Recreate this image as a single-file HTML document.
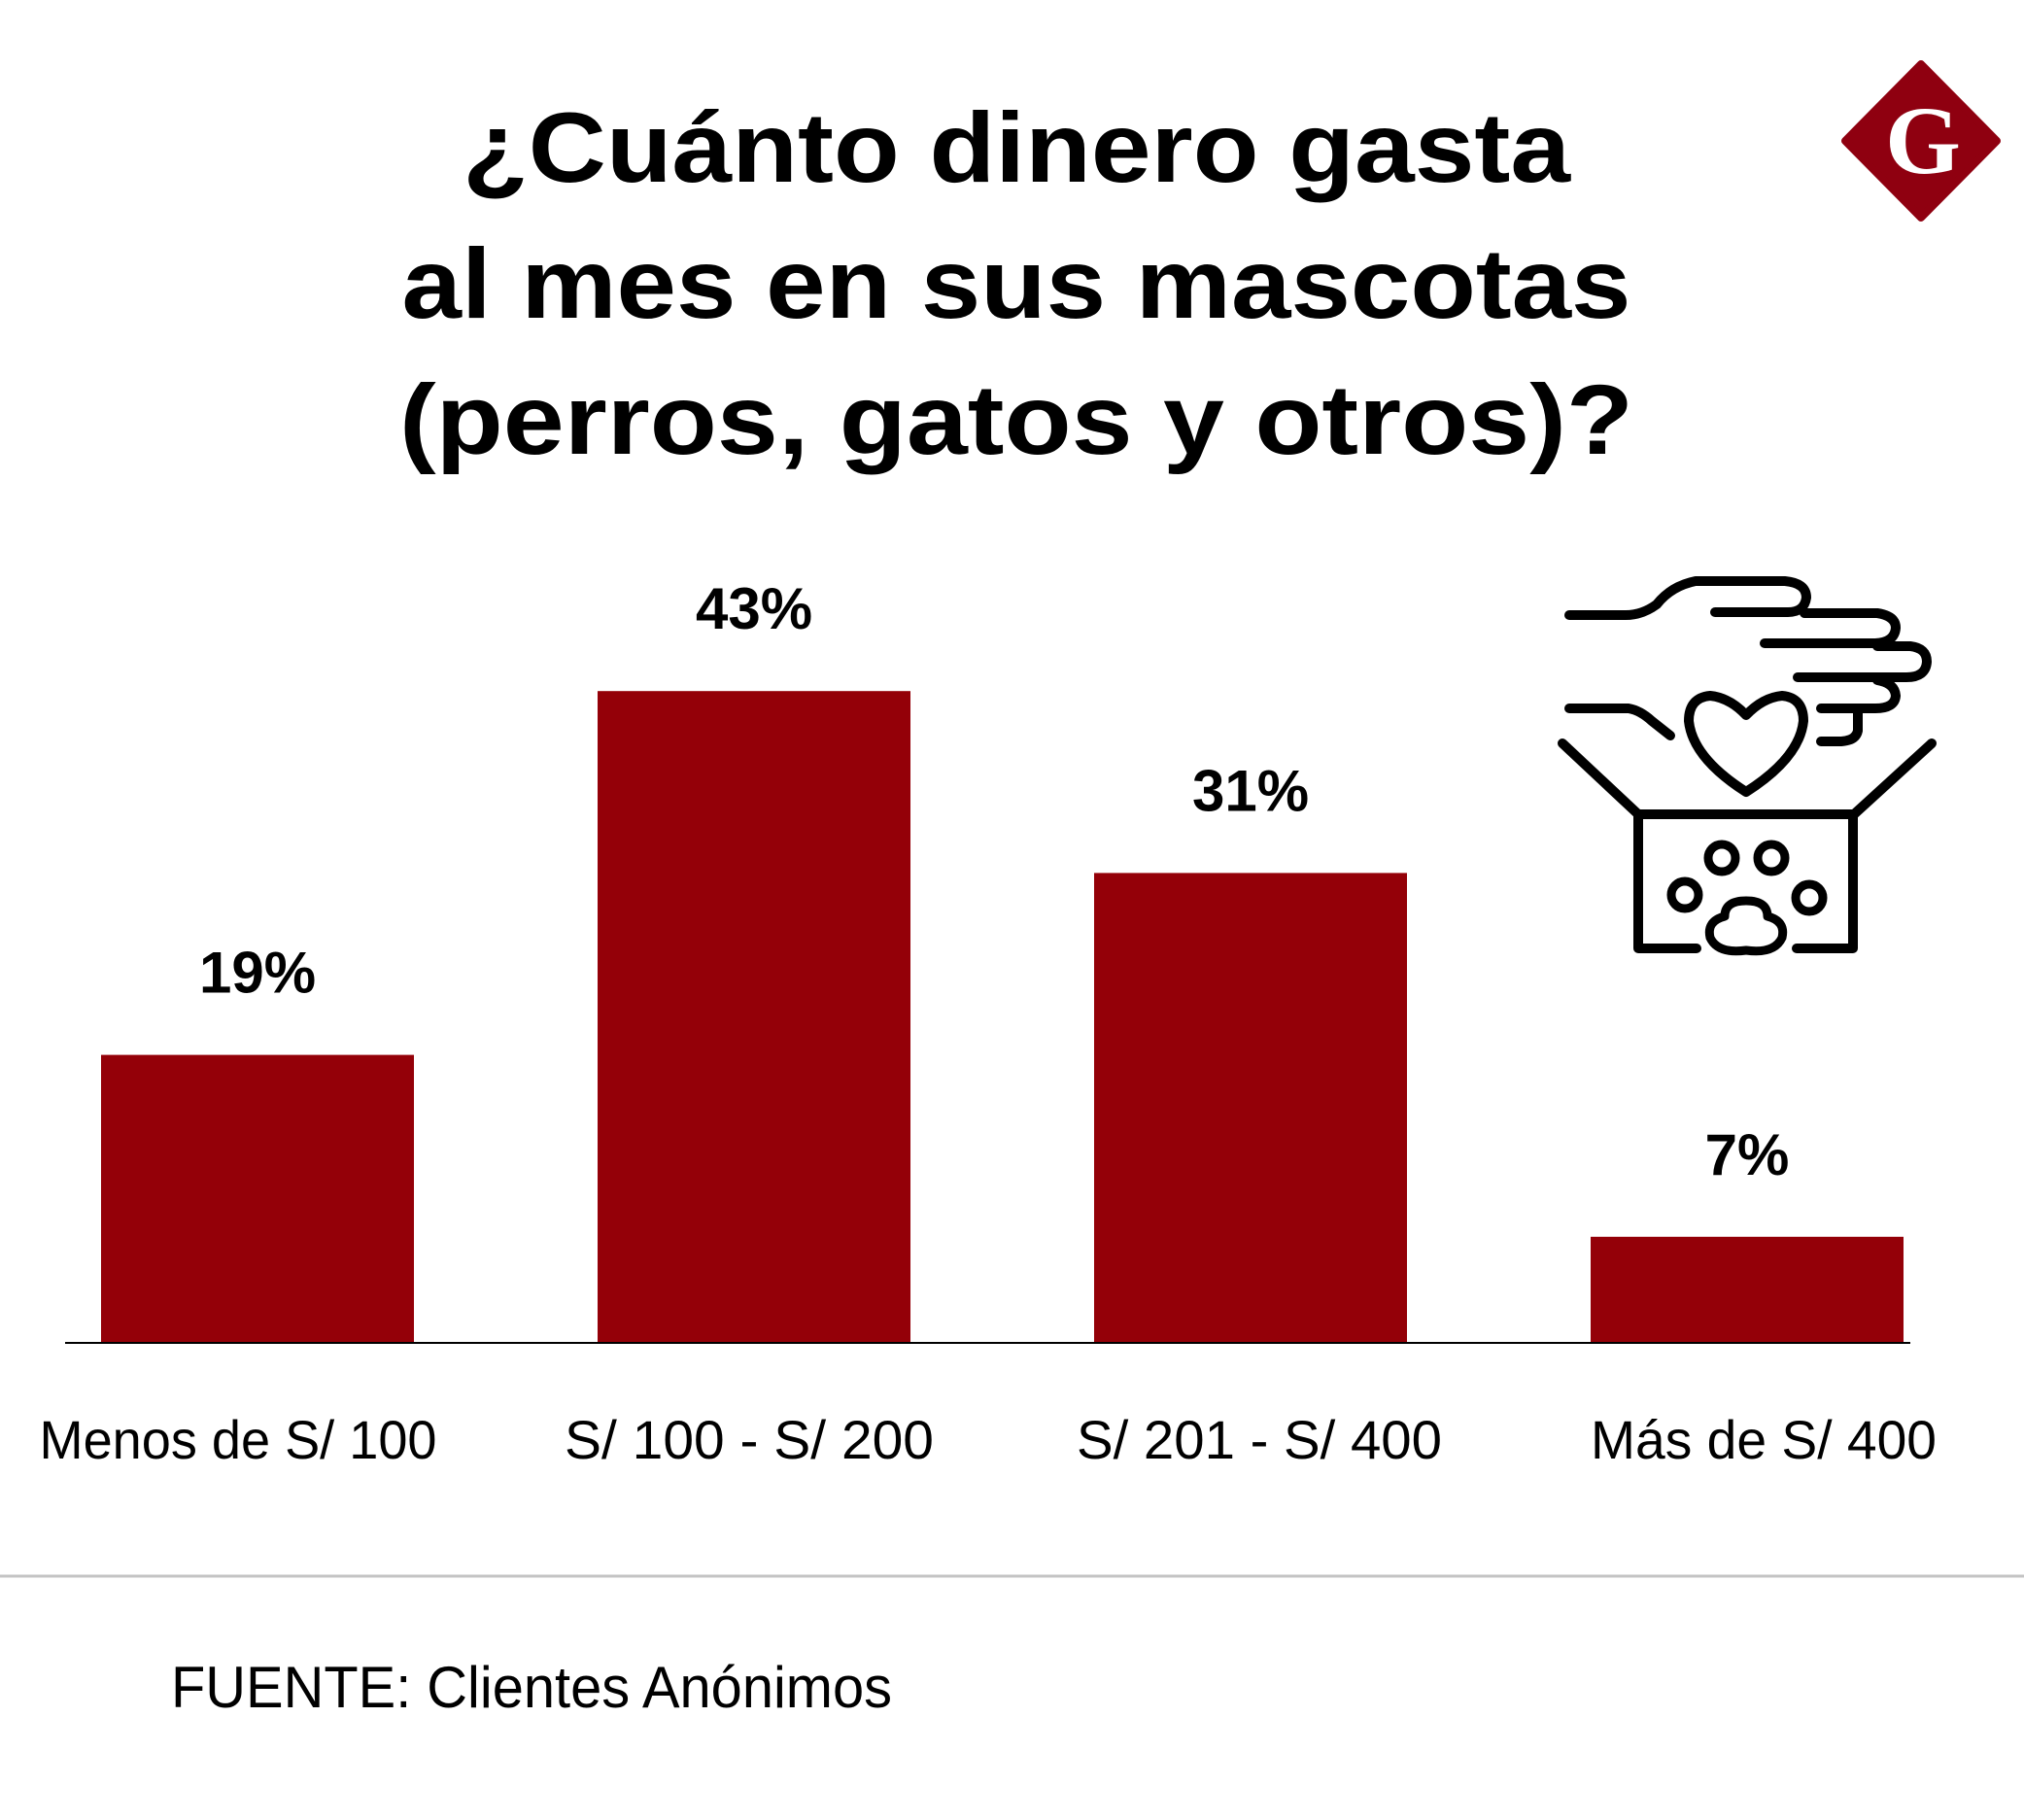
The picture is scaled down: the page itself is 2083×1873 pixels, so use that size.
<!DOCTYPE html>
<html><head><meta charset="utf-8"><style>
html,body{margin:0;padding:0;background:#fff;}
svg{display:block;}
text{font-family:"Liberation Sans",sans-serif;}
</style></head><body>
<svg id="chart" width="2083" height="1873" viewBox="0 0 2083 1873" xmlns="http://www.w3.org/2000/svg">
<g font-weight="bold" font-size="102" text-anchor="middle" fill="#000">
<text x="1046" y="187" textLength="1140" lengthAdjust="spacingAndGlyphs">¿Cuánto dinero gasta</text>
<text x="1046" y="327" textLength="1265" lengthAdjust="spacingAndGlyphs">al mes en sus mascotas</text>
<text x="1046" y="467" textLength="1270" lengthAdjust="spacingAndGlyphs">(perros, gatos y otros)?</text>
</g>
<g>
<path d="M1977 66 L2055 145 L1977 224 L1899 145 Z" fill="#8f0010" stroke="#8f0010" stroke-width="8" stroke-linejoin="round"/>
<text x="1979" y="178" style="font-family:'Liberation Serif',serif;font-weight:bold;font-size:100px" fill="#fff" text-anchor="middle">G</text>
</g>
<g fill="none" stroke="#000" stroke-width="10" stroke-linecap="round" stroke-linejoin="round">
<path d="M1615 633 L1673 633 Q1690 633 1705 622 Q1720 603 1745 598 L1837 598 Q1859 600 1859 615 Q1857 630 1840 630 L1765 630"/>
<path d="M1857 631 L1932 631 Q1951 634 1951 646 Q1950 661 1930 662 L1816 662"/>
<path d="M1932 665 L1966 665 Q1983 667 1983 681 Q1982 697 1962 697 L1850 697"/>
<path d="M1932 700 Q1950 703 1951 716 Q1950 729 1930 729 L1874 729"/>
<path d="M1912 732 L1912 752 Q1910 762 1895 763 L1874 763"/>
<path d="M1615 729 L1676 729 Q1688 731 1700 742 L1719 757"/>
<path d="M1797 736 Q1780 718 1760 716 Q1738 718 1738 742 Q1742 780 1797 815 Q1852 780 1856 742 Q1856 718 1834 716 Q1814 718 1797 736 Z"/>
<path d="M1608 765 L1686 838 L1908 838 L1988 765"/>
<path d="M1686 838 L1686 976 L1746 976 M1849 976 L1907 976 L1907 838"/>
<circle cx="1772" cy="883" r="14" stroke-width="9"/>
<circle cx="1823" cy="883" r="14" stroke-width="9"/>
<circle cx="1734" cy="921" r="14" stroke-width="9"/>
<circle cx="1862" cy="924" r="14" stroke-width="9"/>
<path d="M1797 927 Q1775 927 1775 943 Q1756 948 1760 965 Q1768 982 1797 978 Q1826 982 1834 965 Q1838 948 1819 943 Q1819 927 1797 927 Z" stroke-width="9"/>
</g>
<g id="bars"></g>
<g id="value-labels"></g>
<g id="cat-labels"></g>
<line x1="67" y1="1382" x2="1966" y2="1382" stroke="#000" stroke-width="2"/>
<line x1="0" y1="1622" x2="2083" y2="1622" stroke="#c4c4c4" stroke-width="3"/>
<text x="176" y="1757" font-size="60" fill="#000" textLength="742" lengthAdjust="spacingAndGlyphs">FUENTE: Clientes Anónimos</text>
</svg>
<script>
const categories = ["Menos de S/ 100", "S/ 100 - S/ 200", "S/ 201 - S/ 400", "Más de S/ 400"];
const values = [19, 43, 31, 7];
const valueLabels = ["19%", "43%", "31%", "7%"];
const catLabelWidths = [409, 380, 376, 356];
(function(){
  const ns = "http://www.w3.org/2000/svg";
  const baseY = 1382, pxPerUnit = 15.6;
  const x0 = 104, step = 511, bw = 322;
  const yS = v => baseY - v * pxPerUnit;
  const bars = document.getElementById('bars');
  const vl = document.getElementById('value-labels');
  const cl = document.getElementById('cat-labels');
  const catCenters = [245, 771, 1296, 1815];
  categories.forEach((c, i) => {
    const x = x0 + i * step;
    const r = document.createElementNS(ns, 'rect');
    r.setAttribute('x', x); r.setAttribute('y', yS(values[i]));
    r.setAttribute('width', bw); r.setAttribute('height', baseY - yS(values[i]));
    r.setAttribute('fill', '#940008');
    
    
    bars.appendChild(r);
    const t = document.createElementNS(ns, 'text');
    t.setAttribute('x', x + bw / 2); t.setAttribute('y', yS(values[i]) - 64);
    t.setAttribute('text-anchor', 'middle'); t.setAttribute('font-size', '60'); t.setAttribute('font-weight', 'bold');
    t.textContent = valueLabels[i];
    
    
    vl.appendChild(t);
    const ct = document.createElementNS(ns, 'text');
    ct.setAttribute('x', catCenters[i]); ct.setAttribute('y', 1501);
    ct.setAttribute('text-anchor', 'middle'); ct.setAttribute('font-size', '56');
    ct.setAttribute('textLength', catLabelWidths[i]); ct.setAttribute('lengthAdjust', 'spacingAndGlyphs');
    ct.textContent = c;
    
    
    cl.appendChild(ct);
  });
})();
</script>
</body></html>
